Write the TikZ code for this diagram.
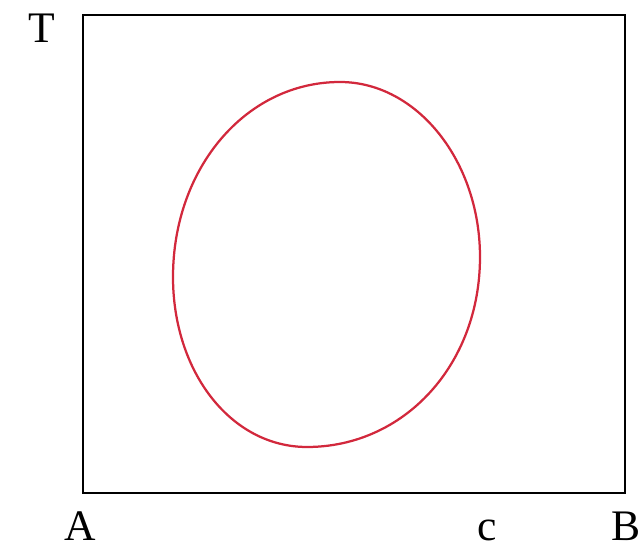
\documentclass[tikz,border=0pt]{standalone}
\usepackage{fontspec}
\setmainfont{Liberation Serif}
\definecolor{curvered}{RGB}{210,40,60}

\begin{document}
\begin{tikzpicture}[x=0.025cm, y=-0.025cm, every node/.style={font=\fontsize{31}{36}\selectfont, inner sep=0pt, anchor=base}]
  \useasboundingbox (0,0) rectangle (641,550);
  \draw[line width=1.8pt] (83,15) rectangle (625,493);
  \node (T) at (42,43) {T};
  \node (A) at (80,541) {A};
  \node (c) at (487,541) {c};
  \node (B) at (626,541) {B};
  \draw[curvered, line width=1.6pt] (340,82) .. controls (417,82) and (480,161) .. (480,257)
    .. controls (480,365) and (404,447) .. (307,447)
    .. controls (231,447) and (173,372) .. (173,277)
    .. controls (173,168) and (246,82) .. (340,82) -- cycle;
\end{tikzpicture}
\end{document}
